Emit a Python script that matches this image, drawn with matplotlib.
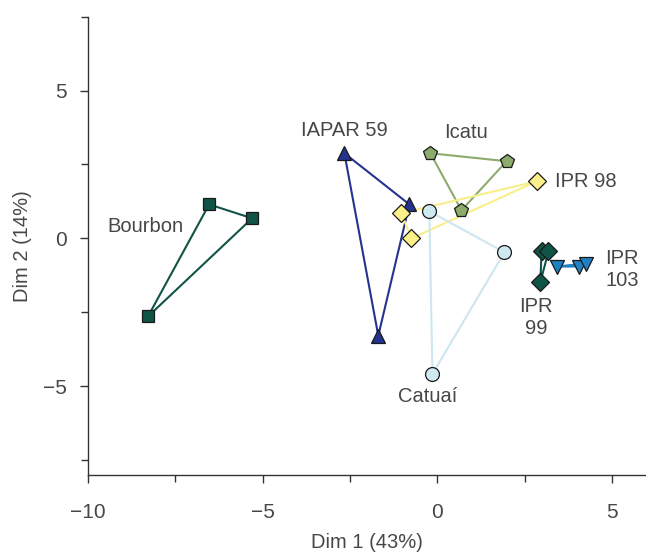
import matplotlib.pyplot as plt

# Coordenadas das cultivares (Dim 1, Dim 2)
bourbon_x = [-6.53, -5.30, -8.28]
bourbon_y = [1.15, 0.68, -2.64]
iapar_x = [-2.66, -0.80, -1.69]
iapar_y = [2.88, 1.15, -3.29]
icatu_x = [-0.20, 1.98, 0.69]
icatu_y = [2.88, 2.61, 0.95]
ipr98_x = [2.84, -1.03, -0.74]
ipr98_y = [1.93, 0.85, 0.0]
catuai_x = [-0.23, 1.92, -0.14]
catuai_y = [0.92, -0.47, -4.58]
ipr99_x = [2.98, 3.18, 2.95]
ipr99_y = [-0.44, -0.44, -1.46]
ipr103_x = [3.41, 4.05, 4.24]
ipr103_y = [-0.95, -0.95, -0.85]

grupos = [
    (bourbon_x, bourbon_y, 's', '#0f5446', '#0f5446'),
    (iapar_x, iapar_y, '^', '#23338f', '#23338f'),
    (icatu_x, icatu_y, 'p', '#8cab6c', '#8cab6c'),
    (ipr98_x, ipr98_y, 'D', '#fdf08a', '#f8ef8a'),
    (catuai_x, catuai_y, 'o', '#cfe9f1', '#cde6ef'),
    (ipr99_x, ipr99_y, 'D', '#0f5446', '#0f5446'),
    (ipr103_x, ipr103_y, 'v', '#1f80c4', '#1f80c4'),
]

plt.rcParams['font.family'] = ['Liberation Sans', 'DejaVu Sans']
cor_texto = '#474747'

fig = plt.figure(figsize=(6.46, 5.53), dpi=100)
ax = fig.add_axes([0.136, 0.141, 0.864, 0.829])

for xs, ys, m, cor, cor_linha in grupos:
    fx = xs + [xs[0]]
    fy = ys + [ys[0]]
    ax.plot(fx, fy, color=cor_linha, linewidth=1.5, zorder=1)
    ms = 9 if m in ('D', 's') else 10
    ax.plot(xs, ys, linestyle='none', marker=m, markersize=ms,
            markerfacecolor=cor, markeredgecolor='#1a1a1a',
            markeredgewidth=0.9, zorder=3)

fs = 14.5
rotulos = [
    (-2.66, 3.65, 'IAPAR 59', 'center'),
    (0.83, 3.58, 'Icatu', 'center'),
    (3.37, 1.92, 'IPR 98', 'left'),
    (-8.34, 0.40, 'Bourbon', 'center'),
    (-0.29, -5.36, 'Catuaí', 'center'),
    (2.83, -2.69, 'IPR\n99', 'center'),
    (4.8, -1.06, 'IPR\n103', 'left'),
]
for tx, ty, s, ha in rotulos:
    ax.text(tx, ty, s, ha=ha, va='center', fontsize=fs, color=cor_texto,
            linespacing=1.2)

ax.set_xlim(-10, 5.97)
ax.set_ylim(-8.0, 7.5)
ax.set_xticks([-10, -5, 0, 5])
ax.set_xticklabels(['\u221210', '\u22125', '0', '5'])
ax.set_xticks([-7.5, -2.5, 2.5], minor=True)
ax.set_yticks([-5, 0, 5])
ax.set_yticklabels(['\u22125', '0', '5'])
ax.set_yticks([-7.5, -2.5, 2.5, 7.5], minor=True)

for lado in ['top', 'right']:
    ax.spines[lado].set_visible(False)
for lado in ['left', 'bottom']:
    ax.spines[lado].set_color('#333333')
    ax.spines[lado].set_linewidth(1.0)

ax.tick_params(which='both', direction='out', color='#333333', width=1.0,
               labelsize=15, labelcolor=cor_texto)
ax.tick_params(which='major', length=6)
ax.tick_params(which='minor', length=5)
ax.tick_params(axis='x', pad=14)
ax.tick_params(axis='y', pad=9)

ax.set_xlabel('Dim 1 (43%)', fontsize=14.5, color=cor_texto, labelpad=8)
ax.set_ylabel('Dim 2 (14%)', fontsize=14.5, color=cor_texto, labelpad=8)

plt.savefig('out.png', dpi=100)
